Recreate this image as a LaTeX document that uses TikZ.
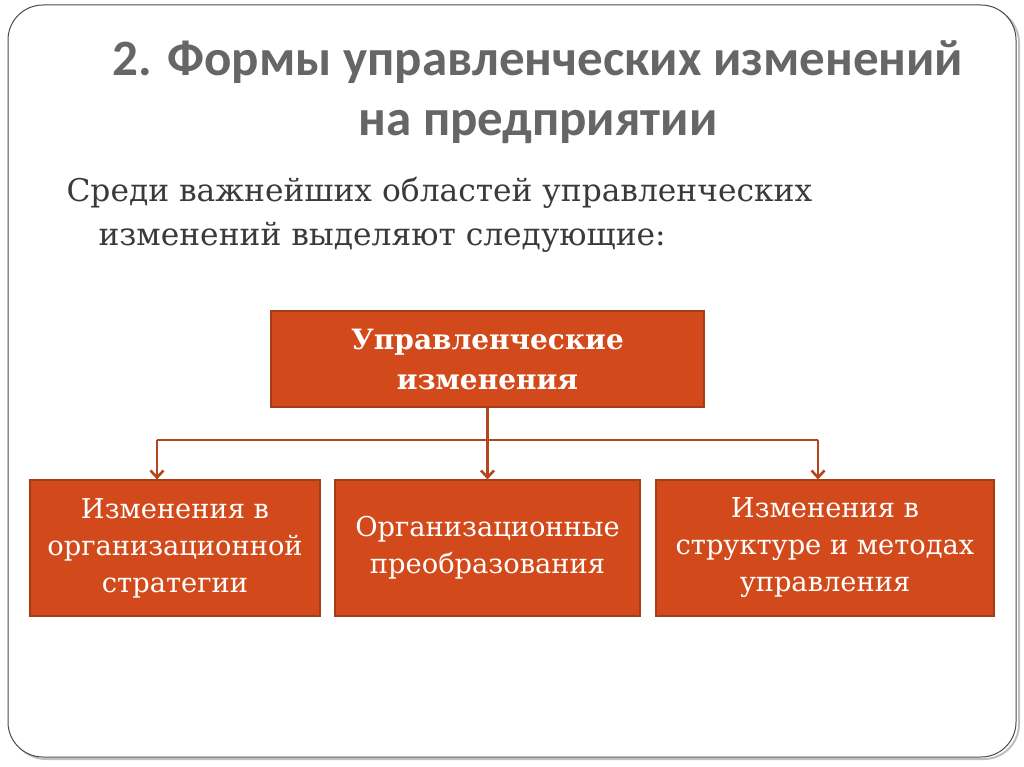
\documentclass[tikz,border=0pt]{standalone}
\usepackage{fontspec}
\setmainfont{DejaVu Serif}
\newfontfamily\titlefont{Carlito}
\usepackage{tikz}
\usetikzlibrary{positioning, arrows.meta, calc}

\definecolor{boxfill}{HTML}{D24A1B}
\definecolor{boxline}{HTML}{A63C17}
\definecolor{linkcol}{HTML}{B5451C}
\definecolor{titlegray}{HTML}{666666}
\definecolor{textgray}{HTML}{3A3A3A}

\begin{document}
\begin{tikzpicture}[x=1pt, y=-1pt,
    area/.style={draw=boxline, line width=1.2pt, fill=boxfill, text=white,
                 minimum height=136pt, align=center, inner sep=0pt},
    head/.style={area, minimum width=433pt, minimum height=96pt,
                 font=\fontsize{28}{40}\selectfont\bfseries},
    link/.style={draw=linkcol, line width=2.8pt},
    tip/.style={link, -{Straight Barb[length=7pt, width=13pt, line width=2.6pt]}}]
  \useasboundingbox (0,0) rectangle (1024,767);
  % slide frame
  \draw[black!25, line width=2pt, rounded corners=35pt] (11,8) rectangle (1019,759);
  \draw[black!70, fill=white, line width=1pt, rounded corners=35pt] (8,5) rectangle (1016,757);
  % title and intro text
  \node[text=titlegray, align=center, font=\titlefont\fontsize{51}{60}\selectfont\bfseries]
    (title) at (538,92) {2. Формы управленческих изменений\\на предприятии};
  \node[text=textgray, anchor=west, font=\fontsize{31.3}{44}\selectfont] (line1) at (63,193)
    {Среди важнейших областей управленческих};
  \node[text=textgray, anchor=west, font=\fontsize{31.3}{44}\selectfont] (line2) at (95,237)
    {изменений выделяют следующие:};
  % boxes
  \node[head] (top) at (487.5,359) {Управленческие\\изменения};
  \node[area, minimum width=290pt, font=\fontsize{27.3}{37}\selectfont] (strat) at (175,548)
    {Изменения в\\организационной\\стратегии};
  \node[area, minimum width=305pt, font=\fontsize{27.3}{37}\selectfont] (org) at (487.5,548)
    {Организационные\\преобразования};
  \node[area, minimum width=338pt, font=\fontsize{27.3}{37}\selectfont] (meth) at (825,548)
    {Изменения в\\структуре и методах\\управления};
  % connectors
  \coordinate (fork) at (487.5,440);
  \coordinate (forkl) at (157,440);
  \coordinate (forkr) at (818,440);
  \draw[link] (top.south) -- (fork);
  \draw[link] (forkl) -- (forkr);
  \draw[tip] (forkl) -- (forkl |- strat.north);
  \draw[tip] (fork) -- (org.north);
  \draw[tip] (forkr) -- (forkr |- meth.north);
\end{tikzpicture}
\end{document}
